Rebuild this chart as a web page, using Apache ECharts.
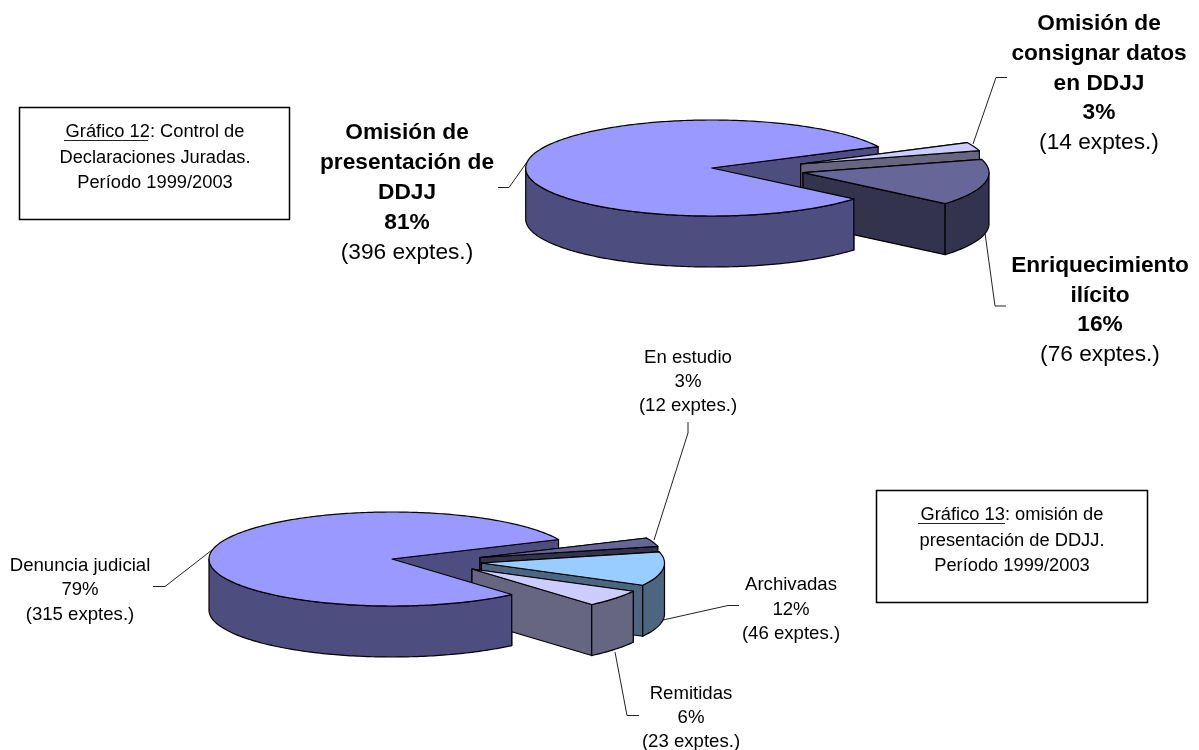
<!DOCTYPE html>
<html>
<head>
<meta charset="utf-8">
<title>Control de Declaraciones Juradas</title>
<script src="https://cdn.jsdelivr.net/npm/echarts@6/dist/echarts.min.js"></script>
<style>
  html, body { margin: 0; padding: 0; background: #fff; }
  #chart { width: 1199px; height: 750px; }
</style>
</head>
<body>
<div id="chart"></div>
<script>
// Gráfico 12: expedientes por tipo de control
const control12Names = ['Omisión de presentación de DDJJ', 'Enriquecimiento ilícito', 'Omisión de consignar datos en DDJJ'];
const control12Exptes = [396, 76, 14];
const control12Pct = [81, 16, 3];

// Gráfico 13: estado de las omisiones de presentación
const omision13Names = ['Denuncia judicial', 'Remitidas', 'Archivadas', 'En estudio'];
const omision13Exptes = [315, 23, 46, 12];
const omision13Pct = [79, 6, 12, 3];

// Presentation of each 3D pie: ellipse, extrusion, exploded offsets and face colours
const pie12 = {
  cx: 711.7, cy: 168, a: 186, b: 48, depth: 51, startDeg: 26.5,
  offsets: [[0, 0], [91.3, 4.7], [89, -4]],
  layers: [10, 3, 2],
  tops: ['#9999FF', '#666699', '#CCCCFF'],
  sides: ['#4D4D80', '#33334D', '#666680']
};
const pie13 = {
  cx: 392, cy: 559, a: 183, b: 47, depth: 51, startDeg: 24.5,
  offsets: [[0, 0], [80, 10], [89.5, 4], [88, -1.5]],
  layers: [10, 4, 3, 2],
  tops: ['#9999FF', '#CCCCFF', '#99CCFF', '#666699'],
  sides: ['#4D4D80', '#666680', '#4D6680', '#33334D']
};

const EDGE = '#000';

// Turns counts into [count, startDeg, endDeg] rows, going anticlockwise on screen
function sliceRows(counts, startDeg) {
  const total = counts.reduce((s, v) => s + v, 0);
  let cur = startDeg;
  return counts.map(v => {
    const from = cur;
    cur += v / total * 360;
    return [v, from, cur];
  });
}

function rimPoint(p, ox, oy, deg, drop) {
  const t = deg * Math.PI / 180;
  return [p.cx + ox + p.a * Math.cos(t), p.cy + oy - p.b * Math.sin(t) + drop];
}

function arcPoints(p, ox, oy, from, to, drop) {
  const n = Math.max(2, Math.ceil(Math.abs(to - from)));
  const pts = [];
  for (let i = 0; i <= n; i++) pts.push(rimPoint(p, ox, oy, from + (to - from) * i / n, drop));
  return pts;
}

function face(points, fill, z2) {
  return {
    type: 'polygon', z2: z2, silent: true,
    shape: { points: points },
    style: { fill: fill, stroke: EDGE, lineWidth: 1.2, lineJoin: 'round' }
  };
}

function renderSlice(p) {
  return function (params, api) {
    const i = params.dataIndex;
    const from = api.value(1), to = api.value(2);
    const ox = p.offsets[i][0], oy = p.offsets[i][1];
    const layer = p.layers[i];
    const apex = [p.cx + ox, p.cy + oy];
    const apexLow = [apex[0], apex[1] + p.depth];
    // The largest slice keeps its cut faces behind every exploded slice,
    // while its top and rim stay in front of them
    const cutLayer = layer === 10 ? 1 : layer;
    const children = [];

    [to, from].forEach(deg => {
      children.push(face([apex, rimPoint(p, ox, oy, deg, 0), rimPoint(p, ox, oy, deg, p.depth), apexLow],
        p.sides[i], cutLayer));
    });

    // Only the part of the rim on the near half of the ellipse can be seen
    [180, 540].forEach(lo => {
      const s = Math.max(from, lo), e = Math.min(to, lo + 180);
      if (e > s) {
        const upper = arcPoints(p, ox, oy, s, e, 0);
        const lower = arcPoints(p, ox, oy, e, s, p.depth);
        children.push(face(upper.concat(lower), p.sides[i], layer));
      }
    });

    children.push(face([apex].concat(arcPoints(p, ox, oy, from, to, 0)), p.tops[i], layer));
    return { type: 'group', children: children };
  };
}

function pieSeries(name, counts, p) {
  return {
    type: 'custom', name: name, coordinateSystem: 'none', silent: true,
    data: sliceRows(counts, p.startDeg),
    renderItem: renderSlice(p),
    animation: false
  };
}

// Text and leader-line helpers
const FONT = '"Liberation Sans", Arial, sans-serif';
function line(text, x, y, size, bold) {
  return {
    type: 'text', x: x, y: y + 1, z: 20, silent: true,
    style: {
      text: text, fill: '#000', textAlign: 'center', textVerticalAlign: 'middle',
      font: (bold ? 'bold ' : '') + size + 'px ' + FONT
    }
  };
}
function leader(points) {
  return {
    type: 'polyline', z: 20, silent: true,
    shape: { points: points },
    style: { fill: null, stroke: '#222', lineWidth: 1 }
  };
}
function captionBox(x, y, w, h) {
  return {
    type: 'rect', z: 20, silent: true,
    shape: { x: x, y: y, width: w, height: h },
    style: { fill: '#fff', stroke: '#000', lineWidth: 1.5 }
  };
}
function exptes(n) { return '(' + n + ' exptes.)'; }

const graphics = [
  // Gráfico 12 caption
  captionBox(19.5, 107.5, 270, 112),
  line('Gráfico 12: Control de', 155, 131, 18.3),
  leader([[64, 140.5], [148, 140.5]]),
  line('Declaraciones Juradas.', 155, 157, 18.3),
  line('Período 1999/2003', 155, 182, 18.3),

  // Gráfico 12 labels
  line('Omisión de', 407, 132, 22.7, true),
  line('presentación de', 407, 162, 22.7, true),
  line('DDJJ', 407, 192, 22.7, true),
  line(control12Pct[0] + '%', 407, 222, 22.7, true),
  line(exptes(control12Exptes[0]), 407, 252, 22.7),
  leader([[498, 187.5], [509, 187.5], [527, 162]]),

  line('Omisión de', 1099, 23, 22.7, true),
  line('consignar datos', 1099, 53, 22.7, true),
  line('en DDJJ', 1099, 83, 22.7, true),
  line(control12Pct[2] + '%', 1099, 112, 22.7, true),
  line(exptes(control12Exptes[2]), 1099, 142, 22.7),
  leader([[973, 144], [996, 77.5], [1007, 77.5]]),

  line('Enriquecimiento', 1100, 265, 22.7, true),
  line('ilícito', 1100, 295, 22.7, true),
  line(control12Pct[1] + '%', 1100, 324, 22.7, true),
  line(exptes(control12Exptes[1]), 1100, 354, 22.7),
  leader([[985, 233], [995, 306], [1006, 306]]),

  // Gráfico 13 caption
  captionBox(876.5, 490.5, 271, 112),
  line('Gráfico 13: omisión de', 1012, 514, 18.3),
  leader([[918, 523.5], [1005, 523.5]]),
  line('presentación de DDJJ.', 1012, 540, 18.3),
  line('Período 1999/2003', 1012, 565, 18.3),

  // Gráfico 13 labels
  line(omision13Names[3], 688, 357, 18.6),
  line(omision13Pct[3] + '%', 688, 381, 18.6),
  line(exptes(omision13Exptes[3]), 688, 405, 18.6),
  leader([[654, 540], [688, 433], [688, 422]]),

  line(omision13Names[0], 80, 565, 18.6),
  line(omision13Pct[0] + '%', 80, 589, 18.6),
  line(exptes(omision13Exptes[0]), 80, 614, 18.6),
  leader([[153, 586.5], [165, 586.5], [212, 550]]),

  line(omision13Names[2], 791, 584, 18.6),
  line(omision13Pct[2] + '%', 791, 609, 18.6),
  line(exptes(omision13Exptes[2]), 791, 633, 18.6),
  leader([[663, 620], [728, 605.5], [739, 605.5]]),

  line(omision13Names[1], 691, 693, 18.6),
  line(omision13Pct[1] + '%', 691, 717, 18.6),
  line(exptes(omision13Exptes[1]), 691, 741, 18.6),
  leader([[615, 652], [627, 715.5], [639, 715.5]])
];

const chart = echarts.init(document.getElementById('chart'), null, { renderer: 'canvas' });
chart.setOption({
  animation: false,
  backgroundColor: '#fff',
  series: [
    pieSeries('Control de Declaraciones Juradas', control12Exptes, pie12),
    pieSeries('Omisión de presentación de DDJJ', omision13Exptes, pie13)
  ],
  graphic: { elements: graphics }
});
</script>
</body>
</html>
